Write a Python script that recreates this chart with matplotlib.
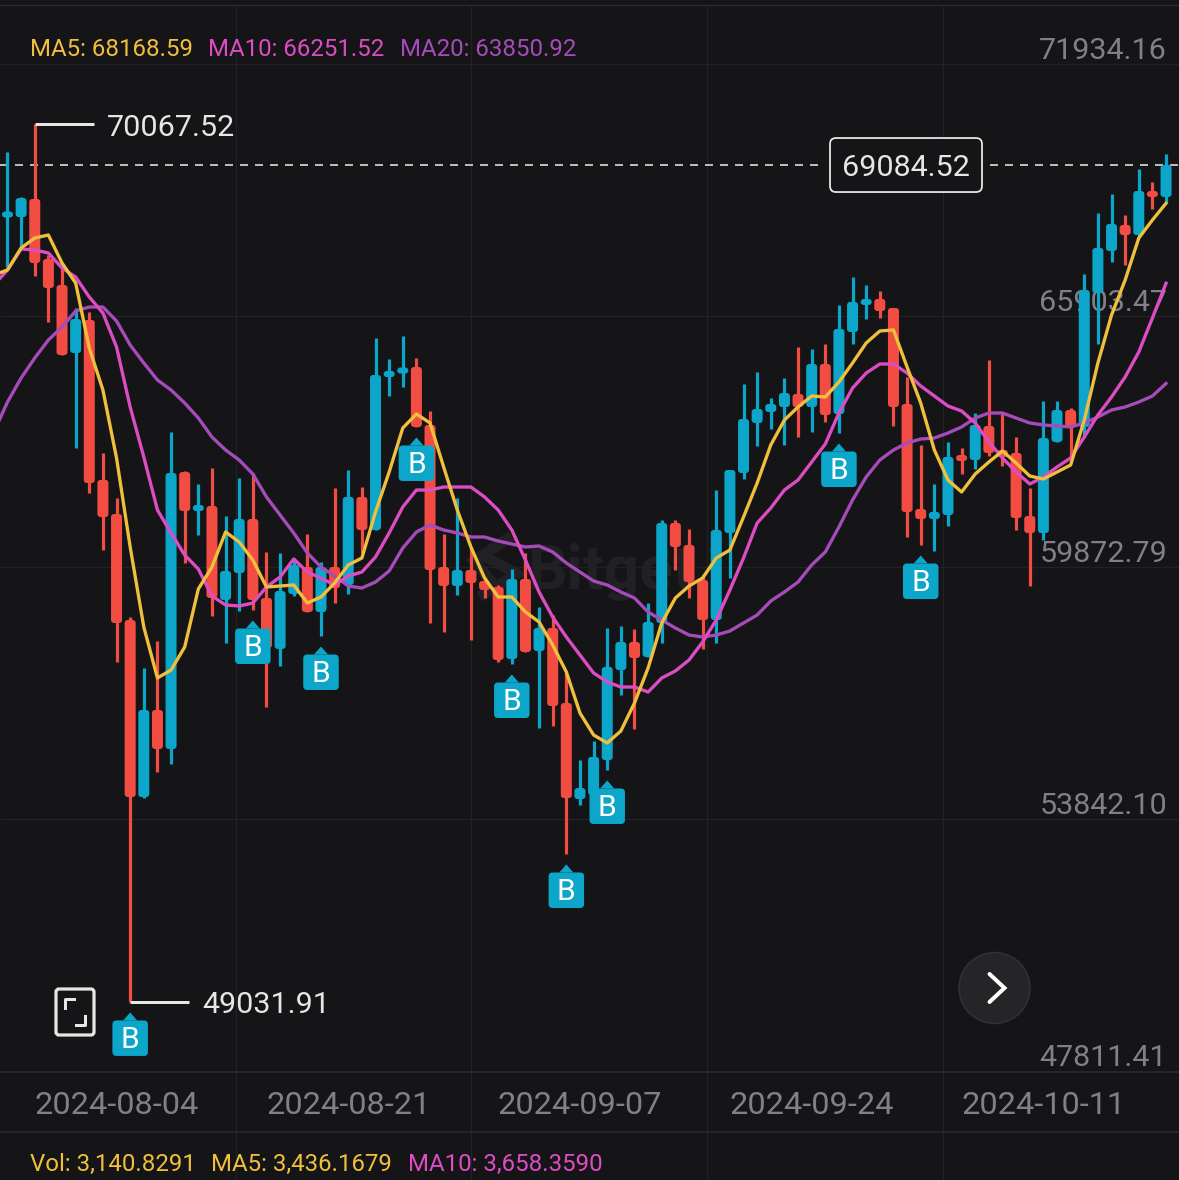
import matplotlib
matplotlib.use("agg")
import matplotlib.pyplot as plt
from matplotlib.patches import Circle, FancyBboxPatch, Polygon
import numpy as np

WIDTH, HEIGHT = 1179, 1180

# price scale of the picture
PX_PER_BAR = 13.63
PRICE_PER_PX = 23.96
PRICE_AT_TOP = 73038.6

opens = [67863, 67839, 68271, 66833, 66210, 64581, 65371, 61538, 60723, 58183,
         53942, 56027, 55093, 61729, 60819, 60915, 58663, 59309, 60603, 58711,
         57489, 58806, 59453, 58375, 59453, 59022, 61131, 60340, 64006, 64101,
         64245, 62856, 59453, 58998, 59381, 59118, 58974, 57249, 59166, 57441,
         57992, 56195, 53894, 53990, 54829, 56985, 57657, 57297, 58112, 60508,
         59981, 59142, 58183, 60268, 61706, 62904, 63167, 63287, 63598, 63287,
         64317, 63119, 65084, 65731, 65875, 65659, 63359, 60843, 60603, 60699,
         62113, 62017, 62832, 62257, 62185, 60675, 60268, 62449, 63215, 62808,
         66018, 67025, 67648, 67408, 68462, 68318]
closes = [67935, 68294, 66737, 66138, 64533, 65395, 61466, 60651, 58112, 53942,
          56027, 55093, 61706, 60795, 60915, 58711, 59357, 60603, 58663, 57513,
          58878, 59501, 58375, 59453, 58950, 61131, 60340, 64054, 64149, 64221,
          62808, 59381, 58998, 59381, 59070, 58902, 57225, 59166, 57417, 57992,
          56123, 53918, 54158, 54901, 57057, 57657, 57273, 58136, 60508, 59933,
          59094, 58183, 60340, 61777, 62999, 63239, 63359, 63622, 63287, 64317,
          63095, 65156, 65803, 65875, 65587, 63287, 60771, 60603, 60771, 62089,
          62017, 62856, 62185, 62089, 60627, 60268, 62544, 63215, 62808, 66090,
          67097, 67672, 67408, 68462, 68318, 69084.52]
highs = [69397, 68319, 70067.52, 66929, 66641, 65659, 65563, 62185, 61107, 58255,
         57033, 57681, 62688, 61753, 61442, 61825, 60675, 61586, 61706, 59813,
         59789, 59669, 60244, 59573, 61346, 61777, 61370, 64940, 64437, 64988,
         64461, 63191, 60244, 61107, 59933, 59214, 59022, 59405, 59789, 58495,
         58303, 56914, 54829, 55284, 57992, 58040, 57968, 58591, 60580, 60580,
         60364, 59262, 61298, 61777, 63838, 64125, 63503, 63982, 64725, 64677,
         64796, 65731, 66402, 66210, 66066, 65659, 64006, 62377, 61442, 62449,
         62305, 63143, 64413, 63143, 62568, 61346, 63431, 63431, 63263, 66474,
         67935, 68390, 67887, 68989, 68678, 69349]
lows = [66641, 67097, 66426, 65324, 64533, 62305, 61227, 59861, 57177, 49031.91,
        53918, 54542, 54733, 59549, 60220, 58280, 57633, 58399, 58423, 56099,
        57081, 58758, 58375, 57800, 58591, 58806, 59789, 60340, 63551, 63766,
        62808, 58112, 57896, 58782, 57704, 58711, 57177, 57129, 57417, 55596,
        55644, 52577, 53751, 53990, 54590, 56387, 55572, 57297, 57633, 59381,
        58711, 57489, 57633, 59190, 61562, 62353, 62760, 62377, 62568, 62688,
        62927, 62664, 64796, 65395, 65419, 62832, 60172, 59980, 59836, 60436,
        61682, 61802, 62113, 61873, 60340, 58998, 60100, 62449, 62017, 62568,
        64796, 66761, 66689, 67336, 68031, 68199]

# moving averages, first value belongs to the bar just left of the picture
ma5 = [66450, 66570, 67097, 67336, 67408, 66737, 66258, 64700, 63694, 62065,
       59933, 58016, 56794, 56985, 57536, 58926, 59453, 60292, 60052, 59621,
       58974, 58998, 59022, 58591, 58735, 59070, 59501, 59669, 60771, 61729,
       62784, 63119, 62904, 61849, 60819, 59933, 59190, 58735, 58735, 58375,
       58136, 57585, 56938, 55955, 55428, 55237, 55524, 56195, 57033, 58112,
       58711, 58998, 59190, 59669, 59861, 60651, 61466, 62377, 62975, 63287,
       63551, 63527, 63886, 64341, 64821, 65108, 65132, 64245, 63383, 62257,
       61538, 61250, 61682, 61969, 62233, 61945, 61633, 61562, 61729, 61897,
       62975, 64341, 65491, 66330, 67336, 67767, 68168.59]
ma10 = [66210, 66570, 67073, 67049, 66977, 66617, 66402, 65922, 65539, 64725,
        63287, 62089, 60819, 60268, 59741, 59405, 58758, 58543, 58519, 58591,
        58974, 59214, 59645, 59333, 59190, 59022, 59238, 59333, 59693, 60268,
        60891, 61298, 61298, 61370, 61370, 61370, 61131, 60819, 60340, 59621,
        58854, 58255, 57776, 57345, 56914, 56698, 56578, 56578, 56458, 56794,
        56962, 57225, 57657, 58183, 58902, 59669, 60508, 60867, 61298, 61538,
        61969, 62400, 63143, 63742, 64101, 64317, 64317, 64101, 63790, 63551,
        63311, 63191, 62904, 62449, 62065, 61729, 61442, 61610, 61849, 62065,
        62568, 63095, 63527, 64006, 64605, 65420, 66251.52]
ma20 = [62688, 63407, 63982, 64461, 64892, 65204, 65587, 65683, 65683, 65347,
        64772, 64341, 63934, 63694, 63383, 63023, 62568, 62257, 62017, 61682,
        61131, 60699, 60268, 59789, 59453, 59238, 58998, 58950, 59094, 59357,
        59908, 60292, 60460, 60340, 60268, 60172, 60172, 60076, 60004, 59933,
        59957, 59813, 59549, 59333, 59118, 59022, 58854, 58711, 58375, 58183,
        57992, 57824, 57776, 57824, 57920, 58112, 58303, 58639, 58854, 59094,
        59501, 59813, 60412, 61059, 61610, 62017, 62257, 62424, 62520, 62544,
        62664, 62808, 63023, 63143, 63143, 63023, 62904, 62856, 62832, 62808,
        62904, 63047, 63215, 63287, 63407, 63551, 63850.92]

buy_bars = [9, 18, 23, 30, 37, 41, 44, 61, 67]
date_bars = [8, 25, 42, 59, 76]
date_labels = ["2024-08-04", "2024-08-21", "2024-09-07", "2024-09-24", "2024-10-11"]
price_ticks = [71934.16, 65903.47, 59872.79, 53842.10, 47811.41]
last_price = 69084.52
high_bar, high_price = 2, 70067.52
low_bar, low_price = 9, 49031.91

BG = "#151518"
GRID = "#222226"
BLUE = "#0ba6c9"
RED = "#f34d43"
YELLOW = "#f0bf3c"
PINK = "#de4cc4"
PURPLE = "#a64bba"
GREY = "#808086"
WHITE = "#e6e6e6"

plt.rcParams["font.family"] = ["Roboto", "DejaVu Sans"]


def pt(px):
    # pixels to points at dpi=100
    return px * 0.72


fig = plt.figure(figsize=(WIDTH / 100, HEIGHT / 100), dpi=100, facecolor=BG)

# background layer in picture pixels
bg = fig.add_axes([0, 0, 1, 1], zorder=0)
bg.set_xlim(0, WIDTH)
bg.set_ylim(HEIGHT, 0)
bg.axis("off")

for x in [235.5, 471, 707, 943]:
    bg.plot([x, x], [4.5, HEIGHT], color=GRID, lw=pt(1.3))
bg.plot([0, WIDTH], [4.5, 4.5], color="#2a2a2e", lw=pt(1.3))
for y in [1072, 1132]:
    bg.plot([0, WIDTH], [y, y], color="#2c2c31", lw=pt(1.5))

# watermark
bg.plot([507, 474, 493], [539, 561, 584], color="#212125", lw=pt(11), solid_joinstyle="miter")
bg.plot([484, 517, 484], [556, 574, 594], color="#212125", lw=pt(11), solid_joinstyle="miter")
bg.text(527, 572, "Bitget", color="#212125", fontsize=pt(62), fontweight="bold", va="center", ha="left")

# header and footer
for x, txt, col in [(30, "MA5: 68168.59", YELLOW), (208, "MA10: 66251.52", PINK), (400, "MA20: 63850.92", PURPLE)]:
    bg.text(x, 49.5, txt, color=col, fontsize=pt(24), va="center", ha="left")
for x, txt, col in [(30, "Vol: 3,140.8291", YELLOW), (211, "MA5: 3,436.1679", YELLOW), (408, "MA10: 3,658.3590", PINK)]:
    bg.text(x, 1164.5, txt, color=col, fontsize=pt(24), va="center", ha="left")

# price chart, bar i sits at 7.5 + 13.63 * i pixels
ax = fig.add_axes([0, 0, 1, 1], zorder=1)
ax.patch.set_visible(False)
ax.set_xlim(-7.5 / PX_PER_BAR, (WIDTH - 7.5) / PX_PER_BAR)
ax.set_ylim(PRICE_AT_TOP - HEIGHT * PRICE_PER_PX, PRICE_AT_TOP)
ax.axis("off")

px_y = PRICE_PER_PX
aspect = PRICE_PER_PX * PX_PER_BAR
grid_shift = 18 * px_y

for p in price_ticks:
    if p != price_ticks[-1]:
        ax.hlines(p - grid_shift, ax.get_xlim()[0], ax.get_xlim()[1], color=GRID, lw=pt(1.3), zorder=0.5)
    ax.text(ax.get_xlim()[1] - 12 / PX_PER_BAR, p - 5 * px_y, f"{p:.2f}", color=GREY,
            fontsize=pt(30.5), ha="right", va="center", zorder=0.6)

for b, lab in zip(date_bars, date_labels):
    ax.text(b, PRICE_AT_TOP - 1106 * px_y, lab, color=GREY, fontsize=pt(32.5), ha="center", va="center")

bars = np.arange(len(opens))
for i in bars:
    col = BLUE if closes[i] >= opens[i] else RED
    ax.plot([i, i], [lows[i], highs[i]], color=col, lw=pt(3.2), solid_capstyle="butt", zorder=2)
    top = max(opens[i], closes[i])
    bot = min(opens[i], closes[i])
    h = max(top - bot, 6 * px_y)
    mid = (top + bot) / 2
    w = 11 / PX_PER_BAR
    r = min(3.0 / PX_PER_BAR, h / aspect / 2)
    ax.add_patch(FancyBboxPatch((i - w / 2, mid - h / 2), w, h,
                                boxstyle=f"round,pad=0,rounding_size={r}",
                                mutation_aspect=aspect, fc=col, ec="none", zorder=2.1))

ma_x = np.arange(-1, len(opens))
ax.plot(ma_x, ma20, color=PURPLE, lw=pt(3.3), solid_joinstyle="round", zorder=3)
ax.plot(ma_x, ma10, color=PINK, lw=pt(3.3), solid_joinstyle="round", zorder=3.1)
ax.plot(ma_x, ma5, color=YELLOW, lw=pt(3.3), solid_joinstyle="round", zorder=3.2)

# buy badges hang under the low of their bar
for i in buy_bars:
    tip = lows[i] - 10.5 * px_y
    bw = 35.5 / PX_PER_BAR
    top = tip - 8 * px_y
    bh = 35.5 * px_y
    ax.add_patch(FancyBboxPatch((i - bw / 2, top - bh), bw, bh,
                                boxstyle=f"round,pad=0,rounding_size={4 / PX_PER_BAR}",
                                mutation_aspect=aspect, fc=BLUE, ec="none", zorder=4))
    ax.add_patch(Polygon([[i - 7 / PX_PER_BAR, top], [i, tip], [i + 7 / PX_PER_BAR, top]],
                         fc=BLUE, ec="none", zorder=4))
    ax.text(i, top - bh / 2 - 1.5 * px_y, "B", color="white", fontsize=pt(30), ha="center",
            va="center", zorder=4.1)

# high / low callouts
for b, p in [(high_bar, high_price), (low_bar, low_price)]:
    ax.plot([b, b + 59 / PX_PER_BAR], [p, p], color=WHITE, lw=pt(3), solid_capstyle="butt", zorder=5)
    ax.text(b + 72 / PX_PER_BAR, p - 3.5 * px_y, f"{p:.2f}", color=WHITE, fontsize=pt(30.5),
            ha="left", va="center", zorder=5)

# last price line and box
ax.axhline(last_price, color="#d8d8d8", lw=pt(1.7), dashes=(8 / 1.7, 7 / 1.7), zorder=1)
box_x0 = (830 - 7.5) / PX_PER_BAR
box_w = 152 / PX_PER_BAR
ax.add_patch(FancyBboxPatch((box_x0 - 8 / PX_PER_BAR, last_price - 27 * px_y), box_w + 16 / PX_PER_BAR, 54 * px_y,
                            boxstyle="square,pad=0", fc=BG, ec="none", zorder=5.5))
ax.add_patch(FancyBboxPatch((box_x0, last_price - 27 * px_y), box_w, 54 * px_y,
                            boxstyle=f"round,pad=0,rounding_size={6 / PX_PER_BAR}",
                            mutation_aspect=aspect, fc=BG, ec=WHITE, lw=pt(1.8), zorder=6))
ax.text(box_x0 + box_w / 2, last_price - 2.5 * px_y, f"{last_price:.2f}", color=WHITE, fontsize=pt(30.5),
        ha="center", va="center", zorder=6.1)

# buttons on top, again in picture pixels
ui = fig.add_axes([0, 0, 1, 1], zorder=2)
ui.patch.set_visible(False)
ui.set_xlim(0, WIDTH)
ui.set_ylim(HEIGHT, 0)
ui.axis("off")

ui.add_patch(FancyBboxPatch((56, 989), 38, 46, boxstyle="round,pad=0,rounding_size=3",
                            fc="none", ec=WHITE, lw=pt(3.2)))
ui.plot([74, 65, 65], [999, 999, 1008], color=WHITE, lw=pt(3))
ui.plot([85, 85, 76], [1016, 1025, 1025], color=WHITE, lw=pt(3))

ui.add_patch(Circle((994.5, 988), 35.5, fc="#252527", ec="#323234", lw=pt(1.5)))
ui.plot([989.5, 1004.5, 989.5], [974, 988, 1002], color="white", lw=pt(4), solid_capstyle="round",
        solid_joinstyle="miter")

fig.savefig("out.png", dpi=100, facecolor=BG)
